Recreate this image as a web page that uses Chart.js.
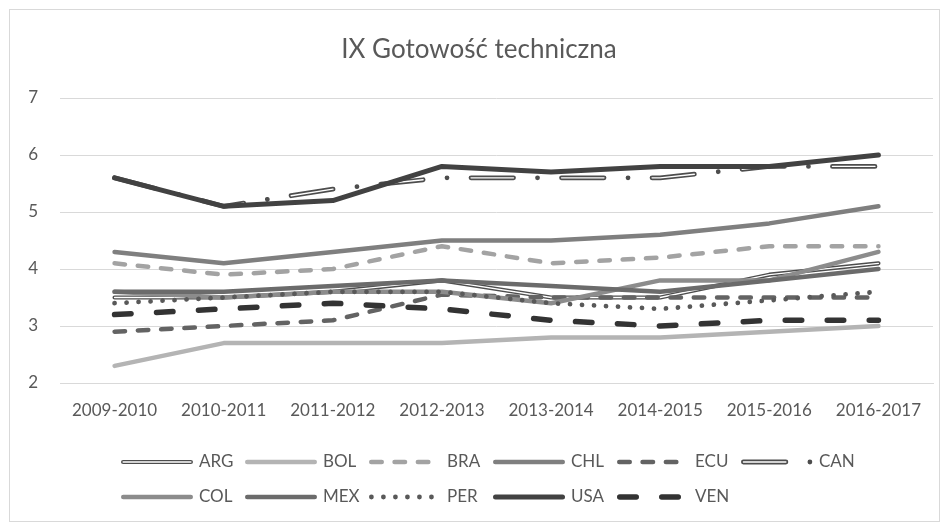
<!DOCTYPE html>
<html><head><meta charset="utf-8">
<script src="https://cdn.jsdelivr.net/npm/chart.js@4.4.1/dist/chart.umd.min.js"></script>
<style>html,body{margin:0;padding:0;background:#fff;}#wrap{position:absolute;left:0;top:0;width:949px;height:530px;}</style>
</head><body><div id="wrap"><canvas id="c" width="949" height="530"></canvas></div>
<script>
// ---- data ----
const categories = ['2009-2010','2010-2011','2011-2012','2012-2013','2013-2014','2014-2015','2015-2016','2016-2017'];
const seriesNames = ['ARG','BOL','BRA','CHL','ECU','CAN','COL','MEX','PER','USA','VEN'];
const ARG = [3.5, 3.5, 3.6, 3.8, 3.5, 3.5, 3.9, 4.1];
const BOL = [2.3, 2.7, 2.7, 2.7, 2.8, 2.8, 2.9, 3.0];
const BRA = [4.1, 3.9, 4.0, 4.4, 4.1, 4.2, 4.4, 4.4];
const CHL = [4.3, 4.1, 4.3, 4.5, 4.5, 4.6, 4.8, 5.1];
const ECU = [2.9, 3.0, 3.1, 3.55, 3.5, 3.5, 3.5, 3.5];
const CAN = [5.6, 5.1, 5.4, 5.6, 5.6, 5.6, 5.8, 5.8];
const COL = [3.6, 3.5, 3.6, 3.6, 3.4, 3.8, 3.8, 4.3];
const MEX = [3.6, 3.6, 3.7, 3.8, 3.7, 3.6, 3.8, 4.0];
const PER = [3.4, 3.5, 3.6, 3.6, 3.4, 3.3, 3.45, 3.6];
const USA = [5.6, 5.1, 5.2, 5.8, 5.7, 5.8, 5.8, 6.0];
const VEN = [3.2, 3.3, 3.4, 3.3, 3.1, 3.0, 3.1, 3.1];
const yTicks = [2, 3, 4, 5, 6, 7];
const titleText = 'IX Gotowość techniczna';

// ---- styles ----
const seriesData = {ARG, BOL, BRA, CHL, ECU, CAN, COL, MEX, PER, USA, VEN};
const styles = {
  ARG: {color:'#4d4d4d', width:4.2, dash:[], compound:true},
  BOL: {color:'#b4b4b4', width:4.5, dash:[]},
  BRA: {color:'#a3a3a3', width:4.5, dash:[10.5, 12.8]},
  CHL: {color:'#7f7f7f', width:4.5, dash:[]},
  ECU: {color:'#636363', width:4.5, dash:[10.5, 12.8]},
  CAN: {color:'#4d4d4d', width:4.8, dash:[42.5, 24, 0.01, 24], compound:true, innerDash:[42.5, 48.01]},
  COL: {color:'#8c8c8c', width:4.5, dash:[]},
  MEX: {color:'#6b6b6b', width:4.5, dash:[]},
  PER: {color:'#595959', width:4.8, dash:[0.01, 12]},
  USA: {color:'#424242', width:5, dash:[]},
  VEN: {color:'#333333', width:5.5, dash:[16.5, 25.5]}
};
const TEXT = '#595959';
const FONT = 'Lato';

const datasets = [];
seriesNames.forEach((name, i) => {
  const s = styles[name];
  datasets.push({label:name, data:seriesData[name], borderColor:s.color, borderWidth:s.width,
    borderDash:s.dash, borderCapStyle:'round', borderJoinStyle:'round', pointRadius:0, tension:0,
    fill:false, order:-i, isMain:true});
  if (s.compound) {
    datasets.push({label:name+'_inner', data:seriesData[name], borderColor:'#ffffff', borderWidth:1.3,
      borderDash:s.innerDash || s.dash, borderCapStyle:'round', borderJoinStyle:'round', pointRadius:0,
      tension:0, fill:false, order:-i-0.5, isMain:false});
  }
});

const frame = {
  id:'frame',
  beforeDraw(chart){
    const ctx = chart.ctx;
    ctx.save();
    ctx.fillStyle = '#fff';
    ctx.fillRect(0,0,chart.width,chart.height);
    ctx.strokeStyle = '#d9d9d9';
    ctx.lineWidth = 1;
    ctx.strokeRect(9.5, 9.5, 930, 512);
    ctx.restore();
  }
};

const excelLegend = {
  id:'excelLegend',
  afterDraw(chart){
    const ctx = chart.ctx;
    const colX0 = 121, colW = 124, rowY = [462, 497], perRow = 6, sampleW = 72, textOff = 78;
    seriesNames.forEach((name, i) => {
      const s = styles[name];
      const r = Math.floor(i / perRow), c = i % perRow;
      const x = colX0 + c * colW, y = rowY[r];
      ctx.save();
      ctx.lineCap = 'round';
      ctx.strokeStyle = s.color;
      ctx.lineWidth = s.width;
      ctx.setLineDash(s.dash);
      ctx.beginPath();
      ctx.moveTo(x + s.width/2, y);
      ctx.lineTo(x + sampleW - s.width/2, y);
      ctx.stroke();
      if (s.compound) {
        ctx.strokeStyle = '#fff';
        ctx.lineWidth = 1.3;
        ctx.setLineDash(s.innerDash || s.dash);
        ctx.beginPath();
        ctx.moveTo(x + s.width/2, y);
        ctx.lineTo(x + sampleW - s.width/2, y);
        ctx.stroke();
      }
      ctx.restore();
      ctx.save();
      ctx.fillStyle = TEXT;
      ctx.font = '17px ' + FONT;
      ctx.textBaseline = 'middle';
      ctx.textAlign = 'left';
      ctx.fillText(name, x + textOff, y);
      ctx.restore();
    });
  }
};

function draw(){
  new Chart(document.getElementById('c'), {
    type:'line',
    data:{labels:categories, datasets},
    options:{
      responsive:false, animation:false, devicePixelRatio:1,
      layout:{padding:{top:0, left:9, right:0, bottom:107}},
      plugins:{
        legend:{display:false},
        tooltip:{enabled:false},
        title:{display:true, text:titleText, color:TEXT,
          font:{family:FONT, size:26, weight:'normal', lineHeight:1.2},
          padding:{top:34.4, bottom:32.4}}
      },
      scales:{
        x:{
          offset:true,
          grid:{display:false, drawTicks:false},
          border:{display:true, color:'#d9d9d9', width:1},
          ticks:{color:TEXT, font:{family:FONT, size:17}, padding:17, maxRotation:0, autoSkip:false},
          afterFit(scale){ scale.height = 40; }
        },
        y:{
          min:2, max:7,
          afterBuildTicks(scale){ scale.ticks = yTicks.map(v => ({value:v})); },
          grid:{color:'#d9d9d9', lineWidth:1, drawTicks:false},
          border:{display:false},
          ticks:{color:TEXT, font:{family:FONT, size:17}, padding:22},
          afterFit(scale){ scale.width = 51; }
        },
        yRight:{
          position:'right', display:true,
          grid:{display:false, drawTicks:false},
          border:{display:false},
          ticks:{display:false},
          afterFit(scale){ scale.width = 16; }
        }
      }
    },
    plugins:[frame, excelLegend]
  });
}
if (document.fonts && document.fonts.load) {
  document.fonts.load('16px ' + FONT).then(draw, draw);
} else { draw(); }
</script>
</body></html>
